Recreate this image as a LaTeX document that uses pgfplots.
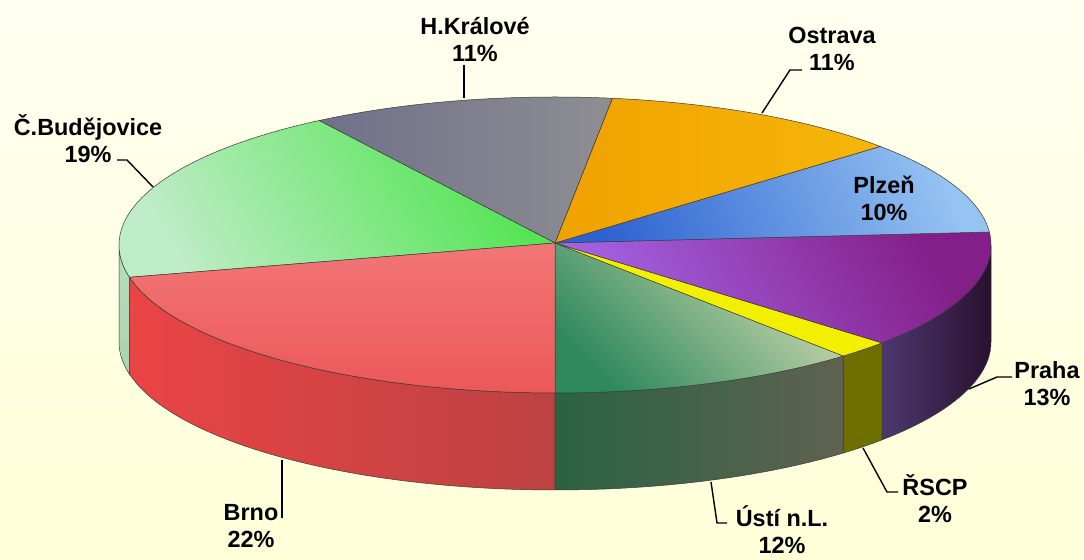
\documentclass[border=0pt]{standalone}
\usepackage{pgfplots}
\pgfplotsset{compat=1.18}
\usepackage{fontspec}
\setmainfont{Liberation Sans}

\definecolor{bgTop}{HTML}{FFFFF0}
\definecolor{bgBot}{HTML}{FFFFD8}
\definecolor{edge}{HTML}{3A3A3A}
\definecolor{cbSideA}{HTML}{B6DEBA}
\definecolor{cbSideB}{HTML}{A8D4AE}
\definecolor{brSideA}{HTML}{EA4444}
\definecolor{brSideB}{HTML}{BC4242}
\definecolor{usSideA}{HTML}{2A6242}
\definecolor{usSideB}{HTML}{606250}
\definecolor{rsSide}{HTML}{6F6F00}
\definecolor{phSideA}{HTML}{4C386E}
\definecolor{phSideB}{HTML}{2A1030}
\definecolor{usTopA}{HTML}{D2DAB2}
\definecolor{usTopB}{HTML}{2E8A5C}
\definecolor{rsTop}{HTML}{F2F000}
\definecolor{phTopA}{HTML}{841E88}
\definecolor{phTopB}{HTML}{A464E4}
\definecolor{plTopA}{HTML}{96C4F2}
\definecolor{plTopB}{HTML}{2E62D0}
\definecolor{osTopA}{HTML}{F0A200}
\definecolor{osTopB}{HTML}{F6B60A}
\definecolor{hkTopA}{HTML}{70708A}
\definecolor{hkTopB}{HTML}{8E8E92}
\definecolor{cbTopA}{HTML}{50E450}
\definecolor{cbTopB}{HTML}{BEECC6}
\definecolor{brTopA}{HTML}{F27676}
\definecolor{brTopB}{HTML}{EC5858}

% shares in percent, counter-clockwise from the bottom
\pgfmathsetmacro\aUs{270}
\pgfmathsetmacro\aRs{\aUs+3.6*11.5}  % Usti n.L.
\pgfmathsetmacro\aPh{\aRs+3.6*2.0}   % RSCP
\pgfmathsetmacro\aPl{\aPh+3.6*12.9}  % Praha
\pgfmathsetmacro\aOs{\aPl+3.6*10.2}  % Plzen
\pgfmathsetmacro\aHK{\aOs+3.6*11.3}  % Ostrava
\pgfmathsetmacro\aCB{\aHK+3.6*11.2}  % H.Kralove
\pgfmathsetmacro\aBr{\aCB+3.6*19.4}  % C.Budejovice
\pgfmathsetmacro\aEnd{\aBr+3.6*21.5} % Brno
\pgfmathsetmacro\aCBside{\aBr-360}

% top face of a slice
\newcommand\topslice[3]{%
  \addplot[#3, draw=edge, line width=0.5bp, domain=#1:#2, samples=60]
    ({555+436*cos(x)},{315+148*sin(x)}) -- (axis cs:555,317) -- cycle;}
% front wall of a slice
\newcommand\sidewall[3]{%
  \addplot[#3, draw=edge, line width=0.5bp,
    samples at={0,0.025,...,0.975,1,1.00001,1.025,1.05,...,1.975,2}]
    ({555+436*cos(#1+(#2-#1)*(1-abs(1-x)))},
     {315+148*sin(#1+(#2-#1)*(1-abs(1-x)))-97*(x>1)}) -- cycle;}

\begin{document}
\begin{tikzpicture}
\begin{axis}[
  width=1084bp, height=560bp, scale only axis,
  xmin=0, xmax=1084, ymin=0, ymax=560,
  hide axis, clip=false,
]
\fill[top color=bgTop, bottom color=bgBot] (axis cs:0,0) rectangle (axis cs:1084,560);

% front walls
\sidewall{180}{\aCBside}{top color=cbSideA, bottom color=cbSideB}
\sidewall{\aBr}{\aEnd}{left color=brSideA, right color=brSideB}
\sidewall{\aUs}{\aRs}{left color=usSideA, right color=usSideB}
\sidewall{\aRs}{\aPh}{fill=rsSide}
\sidewall{\aPh}{360}{left color=phSideA, right color=phSideB}

% top faces
\topslice{\aUs}{\aRs}{top color=usTopA, bottom color=usTopB, shading angle=-45}
\topslice{\aRs}{\aPh}{fill=rsTop}
\topslice{\aPh}{\aPl}{top color=phTopA, bottom color=phTopB, shading angle=-60}
\topslice{\aPl}{\aOs}{top color=plTopA, bottom color=plTopB, shading angle=-70}
\topslice{\aOs}{\aHK}{left color=osTopA, right color=osTopB}
\topslice{\aHK}{\aCB}{left color=hkTopA, right color=hkTopB}
\topslice{\aCB}{\aBr}{top color=cbTopA, bottom color=cbTopB, shading angle=-60}
\topslice{\aBr}{\aEnd}{top color=brTopA, bottom color=brTopB}

% leader lines
\begin{scope}[line width=1.4bp, black]
\draw (axis cs:464,495) -- (axis cs:464,462);
\draw (axis cs:802,490) -- (axis cs:790,490) -- (axis cs:762,447);
\draw (axis cs:117,400) -- (axis cs:127,400) -- (axis cs:153,373);
\draw (axis cs:1012,183) -- (axis cs:997,183) -- (axis cs:969,171);
\draw (axis cs:863,112) -- (axis cs:887,68) -- (axis cs:898,68);
\draw (axis cs:711,78) -- (axis cs:717,37) -- (axis cs:727,37);
\draw (axis cs:282,100) -- (axis cs:282,42);
\end{scope}

% labels
\begin{scope}[every node/.style={font=\fontsize{23.5}{27}\selectfont\bfseries, align=center, inner sep=0pt}]
\node at (axis cs:475,520.5) {H.Králové\\11\%};
\node at (axis cs:832,511) {Ostrava\\11\%};
\node at (axis cs:88,421.5) {Č.Budějovice\\19\%};
\node at (axis cs:884,361.5) {Plzeň\\10\%};
\node at (axis cs:1047,176.5) {Praha\\13\%};
\node at (axis cs:935,61.5) {ŘSCP\\2\%};
\node at (axis cs:782,30) {Ústí n.L.\\12\%};
\node at (axis cs:251,34) {Brno\\22\%};
\end{scope}
\end{axis}
\end{tikzpicture}
\end{document}
